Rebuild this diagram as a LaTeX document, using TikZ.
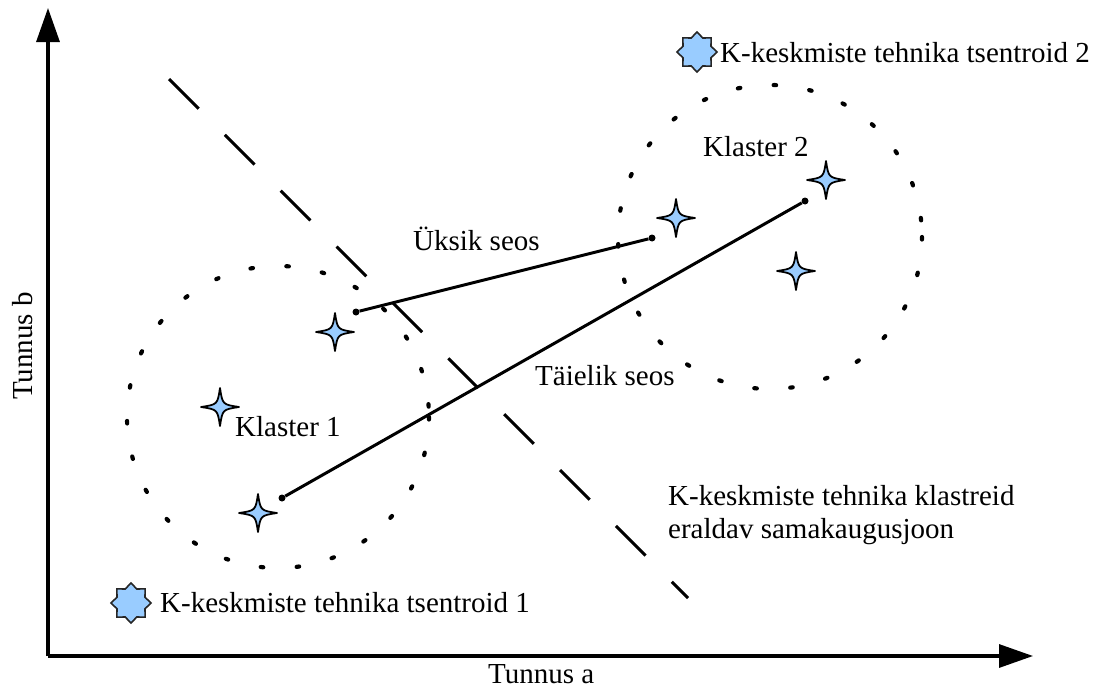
\documentclass[tikz,border=0pt]{standalone}
\usepackage{fontspec}
\setmainfont{Liberation Serif}
\usetikzlibrary{arrows.meta,shapes.geometric}
\definecolor{pointblue}{RGB}{153,204,255}
\tikzset{
  axis/.style={line width=3.2pt,-{Triangle[length=34pt,width=23pt]}},
  label/.style={inner sep=0pt,anchor=base west,font=\fontsize{29}{33}\selectfont},
  clusterring/.style={line width=4.2pt,line cap=round,dash pattern=on 2.5pt off 33.5pt},
  separator/.style={line width=3pt,dash pattern=on 42pt off 37pt},
  linkage/.style={line width=3pt},
  linkend/.style={circle,fill=black,inner sep=0pt,minimum size=7pt},
  sample/.style={fill=pointblue,draw=black,line width=1.8pt,line join=round},
  centroid/.style={star,star points=8,star point ratio=1.32,minimum size=40pt,
    inner sep=0pt,fill=pointblue,draw=black!85,line width=1.6pt}
}
% four-pointed data point with concave sides
\newcommand{\datapoint}[2]{%
  \coordinate (#1) at (#2);
  \draw[sample,shift={(#1)}] (0,-19) .. controls (2.5,-2.5) .. (19,0)
    .. controls (2.5,2.5) .. (0,19) .. controls (-2.5,2.5) .. (-19,0)
    .. controls (-2.5,-2.5) .. cycle;}
\begin{document}
\begin{tikzpicture}[x=1pt,y=-1pt]
\useasboundingbox (0,0) rectangle (1114,688);

% axes
\coordinate (origin) at (48,656);
\coordinate (ytip) at (48,8);
\coordinate (xtip) at (1033,656);
\draw[axis] (origin) -- (ytip);
\draw[axis] (origin) -- (xtip);
\node[label] (xlab) at (488,683) {Tunnus a};
\node[label,rotate=90] (ylab) at (32,400) {Tunnus b};

% the two clusters
\node[circle,draw=none,minimum size=302pt,inner sep=0pt] (ring1) at (278,417) {};
\node[circle,draw=none,minimum size=304pt,inner sep=0pt] (ring2) at (770,237) {};
\draw[clusterring] (ring1.center) circle[radius=151];
\draw[clusterring] (ring2.center) circle[radius=152];

% equidistance line between the k-means clusters
\coordinate (sepA) at (169,79);
\coordinate (sepB) at (688,598);
\draw[separator] (sepA) -- (sepB);

% data points
\datapoint{p1}{335,332}
\datapoint{p2}{220,407}
\datapoint{p3}{258,513}
\datapoint{p4}{676,218}
\datapoint{p5}{826,180}
\datapoint{p6}{796,271}

% single and complete linkage
\node[linkend] (s1) at (356,312) {};
\node[linkend] (s2) at (652,238) {};
\node[linkend] (c1) at (282,498) {};
\node[linkend] (c2) at (805,201) {};
\draw[linkage] (s1) -- (s2);
\draw[linkage] (c1) -- (c2);

% k-means centroids
\node[centroid] (m1) at (131,603) {};
\node[centroid] (m2) at (697,52) {};

% labels
\node[label] (t2) at (720,62) {K-keskmiste tehnika tsentroid 2};
\node[label] (t1) at (160,612) {K-keskmiste tehnika tsentroid 1};
\node[label] (k2) at (703,156) {Klaster 2};
\node[label] (k1) at (235,436) {Klaster 1};
\node[label] (single) at (413,250) {Üksik seos};
\node[label] (complete) at (535,385) {Täielik seos};
\node[label,align=left] (sep) at (668,538) {K-keskmiste tehnika klastreid\\eraldav samakaugusjoon};
\end{tikzpicture}
\end{document}
